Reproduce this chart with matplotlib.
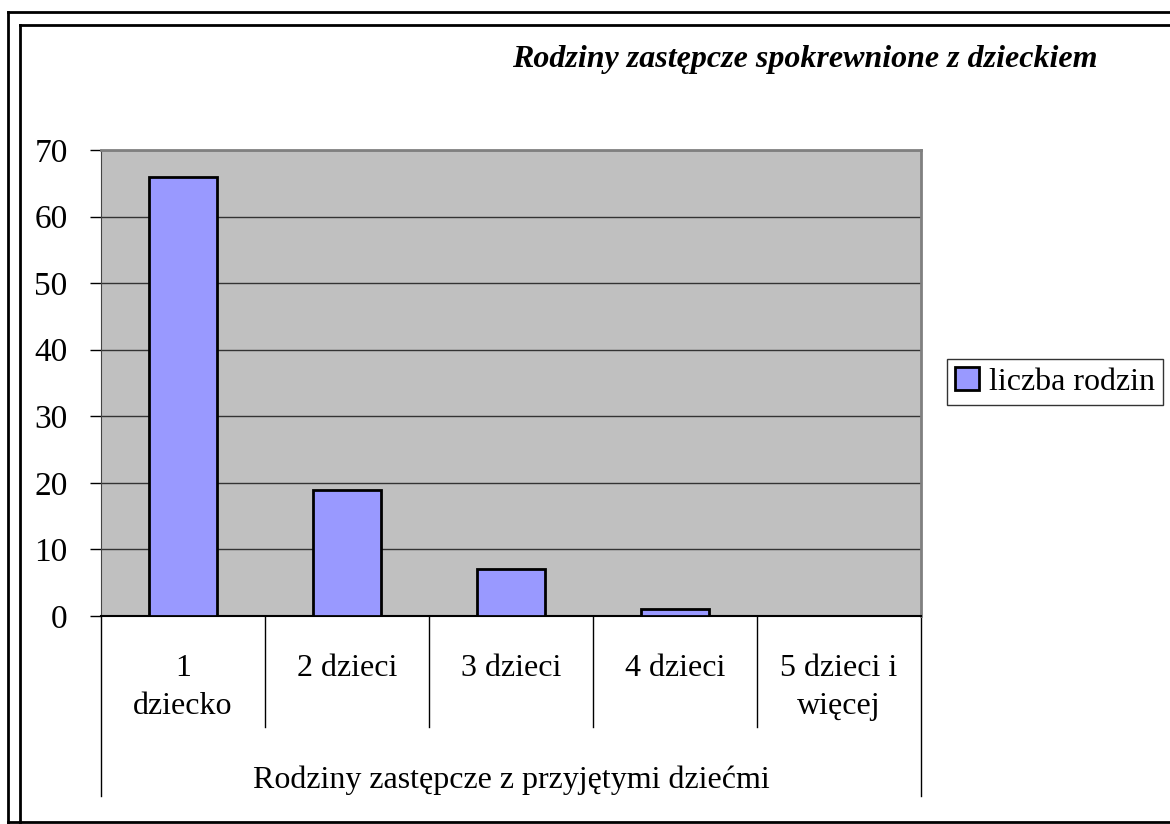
import numpy as np
import matplotlib
matplotlib.use("Agg")
import matplotlib.pyplot as plt
from matplotlib.lines import Line2D

# dane
kategorie = ["1\ndziecko", "2 dzieci", "3 dzieci", "4 dzieci", "5 dzieci i\nwięcej"]
liczba_rodzin = [66, 19, 7, 1, 0]
y_ticks = [0, 10, 20, 30, 40, 50, 60, 70]
tytul = "Rodziny zastępcze spokrewnione z dzieckiem"
etykieta_grupy = "Rodziny zastępcze z przyjętymi dziećmi"
seria = "liczba rodzin"

plt.rcParams['font.family'] = ['Liberation Serif', 'DejaVu Serif']

W, H = 1170, 824
fig = plt.figure(figsize=(W / 100, H / 100), dpi=100)
fig.patch.set_facecolor("white")

# obszar wykresu w pikselach: x 101..921, y 150..616
left, right, top, bottom = 101, 921, 150, 616
ax = fig.add_axes([left / W, 1 - bottom / H, (right - left) / W, (bottom - top) / H])
ax.set_facecolor("#C0C0C0")

x = np.arange(len(kategorie))
ax.bar(x, liczba_rodzin, width=0.41, color="#9999FF", edgecolor="black",
       linewidth=2, label=seria, zorder=3)

ax.set_xlim(-0.5, len(kategorie) - 0.5)
ax.set_ylim(0, 70)
ax.set_yticks(y_ticks)
ax.tick_params(axis="y", labelsize=24, length=8, width=1, direction="out", pad=16)
ax.grid(axis="y", color="#333333", linewidth=1, zorder=1)
ax.set_axisbelow(True)

ax.set_xticks(x)
ax.set_xticklabels([])
ax.tick_params(axis="x", length=0)
for i, lab in enumerate(kategorie):
    ax.text(i, -0.082, lab, transform=ax.get_xaxis_transform(), ha="center",
            va="top", fontsize=23, linespacing=1.4)

for s in ["top", "right"]:
    ax.spines[s].set_color("#808080")
    ax.spines[s].set_linewidth(2)
ax.spines["left"].set_color("#444444")
ax.spines["bottom"].set_color("black")
ax.spines["bottom"].set_linewidth(1.5)

# linie podziału kategorii pod osią
trans = ax.get_xaxis_transform()
for k in range(len(kategorie) + 1):
    xb = k - 0.5
    yend = (bottom - 727) / (bottom - top)
    if k == 0 or k == len(kategorie):
        yend = (bottom - 796) / (bottom - top)
    ax.plot([xb, xb], [0, yend], transform=trans, color="black", lw=1,
            clip_on=False)

ax.text(2, (bottom - 780) / (bottom - top), etykieta_grupy, transform=trans,
        ha="center", va="center", fontsize=23)

# tytuł
fig.text(512 / W, 1 - 59 / H, tytul, ha="left", va="center", fontsize=23,
         fontweight="bold", fontstyle="italic")

# legenda
leg = ax.legend(loc="center left", bbox_to_anchor=(947 / W, 1 - 382 / H),
                bbox_transform=fig.transFigure, fontsize=23, frameon=True,
                fancybox=False, edgecolor="black", handlelength=0.75,
                handleheight=0.75, handletextpad=0.3, borderpad=0.25,
                borderaxespad=0)
leg.get_frame().set_linewidth(1)

# podwójna ramka
def fline(xs, ys, lw=2):
    fig.add_artist(Line2D([v / W for v in xs], [1 - v / H for v in ys],
                          color="black", lw=lw, transform=fig.transFigure))

fline([8, 8], [12, 823])
fline([8, 1175], [12, 12])
fline([20, 20], [25, 823])
fline([20, 1175], [25, 25])
fline([8, 1175], [822, 822])

fig.savefig("out.png", dpi=100)
